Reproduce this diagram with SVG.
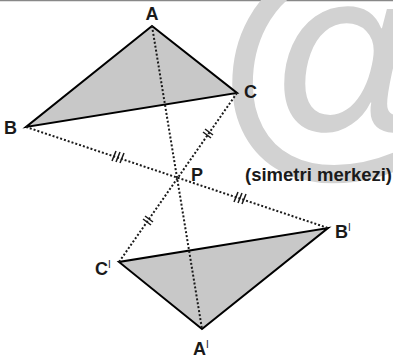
<svg xmlns="http://www.w3.org/2000/svg" width="393" height="359" viewBox="0 0 393 359">
<style>
.lbl{font-family:"Liberation Sans",Arial,sans-serif;font-weight:bold;font-size:18px;fill:#1a1a1a}
.pr{font-size:10px;font-weight:normal}
.tri{fill:#c8c8c8;stroke:#000;stroke-width:2;stroke-linejoin:miter}
.dot{stroke:#1a1a1a;stroke-width:2;stroke-dasharray:2 2;fill:none}
.tick{stroke:#1a1a1a;stroke-width:1.5}
</style>
<rect width="393" height="359" fill="#fff"/>
<line x1="0" y1="0.5" x2="393" y2="0.5" stroke="#888" stroke-width="1.5"/>
<text x="340" y="146" font-family="Liberation Sans,Arial,sans-serif" font-weight="bold" font-style="italic" font-size="260" fill="#d2d2d2" text-anchor="middle">@</text>
<g id="triangle-ABC"><polygon class="tri" points="152,26 26,127 237,93"/></g>
<g id="triangle-A1B1C1"><polygon class="tri" points="202,329 328,228 119,262"/></g>
<g id="connectors">
<line class="dot" x1="152" y1="26" x2="202" y2="329"/>
<line class="dot" x1="26" y1="127" x2="328" y2="228"/>
<line class="dot" x1="237" y1="93" x2="119" y2="262"/>
<g class="tick">
<line x1="112" y1="161" x2="116" y2="151"/><line x1="116" y1="162" x2="120" y2="152"/><line x1="120" y1="163" x2="124" y2="153"/>
<line x1="234" y1="202" x2="238" y2="192"/><line x1="238" y1="203" x2="242" y2="193"/><line x1="242" y1="204" x2="246" y2="194"/>
<line x1="203" y1="132" x2="211" y2="138"/><line x1="205" y1="129" x2="213" y2="135"/>
<line x1="143" y1="219" x2="151" y2="225"/><line x1="145" y1="216" x2="153" y2="222"/>
</g>
</g>
<g id="label-A"><text class="lbl" x="152" y="20" text-anchor="middle">A</text></g>
<g id="label-B"><text class="lbl" x="4" y="134">B</text></g>
<g id="label-C"><text class="lbl" x="244" y="98">C</text></g>
<g id="label-P"><text class="lbl" x="191" y="181">P</text></g>
<g id="label-note"><text class="lbl" x="245" y="181" style="font-size:18.5px">(simetri merkezi)</text></g>
<g id="label-B1"><text class="lbl" x="335" y="238">B<tspan class="pr" dy="-7">I</tspan></text></g>
<g id="label-C1"><text class="lbl" x="95" y="275">C<tspan class="pr" dy="-7">I</tspan></text></g>
<g id="label-A1"><text class="lbl" x="193" y="355">A<tspan class="pr" dy="-7">I</tspan></text></g>
</svg>
